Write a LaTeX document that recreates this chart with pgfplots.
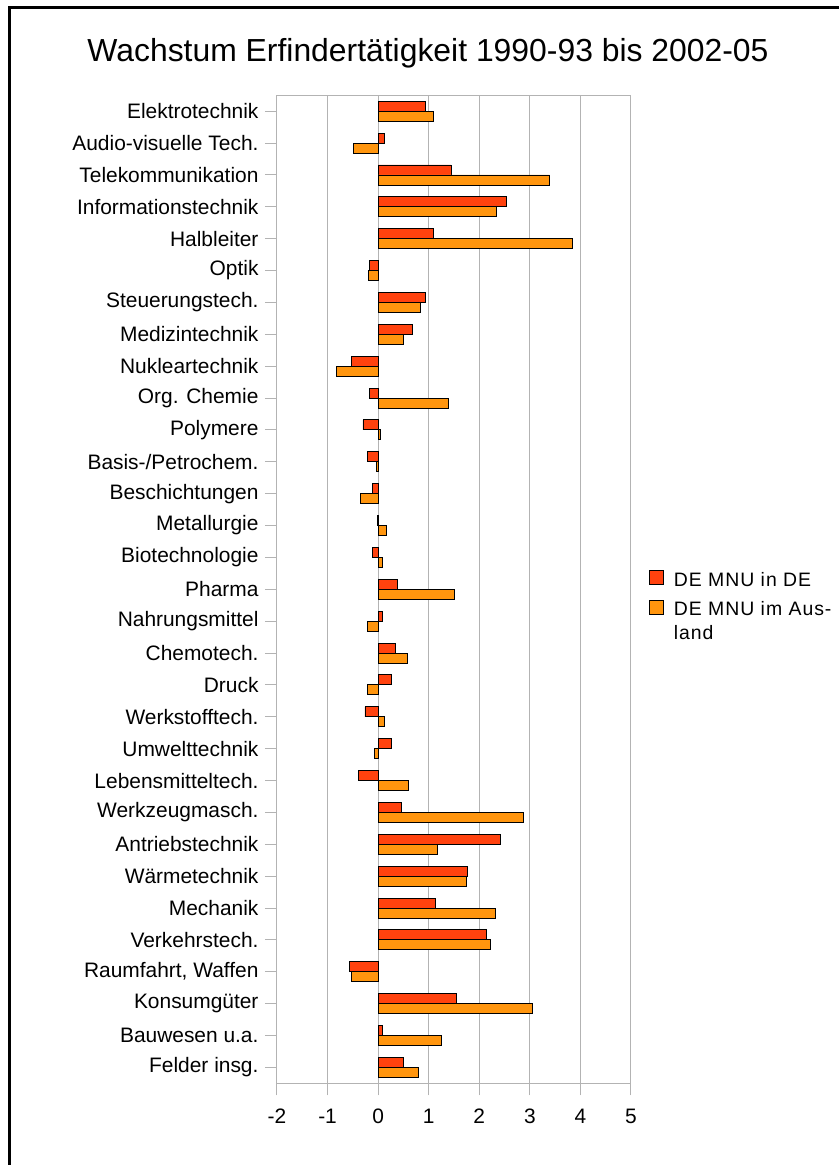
\documentclass[border=0pt]{standalone}
\usepackage{pgfplots}
\pgfplotsset{compat=1.18}
\usepackage{fontspec}
\setmainfont{Liberation Sans}
\newfontfamily\legfont[LetterSpace=5]{Liberation Sans}
\definecolor{cred}{HTML}{FF420E}
\definecolor{corange}{HTML}{FF950E}
\definecolor{cgrid}{HTML}{B3B3B3}
\pgfplotstableread{
y red orange
30 0.94 1.10
29 0.12 -0.49
28 1.44 3.39
27 2.53 2.34
26 1.10 3.85
25 -0.18 -0.19
24 0.94 0.83
23 0.68 0.50
22 -0.52 -0.83
21 -0.18 1.39
20 -0.30 0.05
19 -0.22 -0.04
18 -0.11 -0.34
17 -0.01 0.16
16 -0.11 0.08
15 0.38 1.51
14 0.08 -0.22
13 0.34 0.57
12 0.26 -0.22
11 -0.26 0.12
10 0.26 -0.07
9 -0.38 0.60
8 0.46 2.87
7 2.42 1.17
6 1.77 1.74
5 1.14 2.31
4 2.15 2.23
3 -0.56 -0.53
2 1.55 3.06
1 0.08 1.25
0 0.50 0.79
}\datatable
\begin{document}
\begin{tikzpicture}
\begin{axis}[
  at={(0bp,0bp)}, anchor=south west, scale only axis,
  width=354bp, height=988bp,
  xmin=-2, xmax=5, ymin=-0.5, ymax=30.5,
  xtick={-2,...,5}, xticklabels={-2,-1,0,1,2,3,4,5},
  ytick={0,...,30},
  yticklabels={Felder insg.,Bauwesen u.a.,Konsumgüter,{Raumfahrt, Waffen},Verkehrstech.,Mechanik,Wärmetechnik,Antriebstechnik,Werkzeugmasch.,Lebensmitteltech.,Umwelttechnik,Werkstofftech.,Druck,Chemotech.,Nahrungsmittel,Pharma,Biotechnologie,Metallurgie,Beschichtungen,Basis-/Petrochem.,Polymere,Org. Chemie,Nukleartechnik,Medizintechnik,Steuerungstech.,Optik,Halbleiter,Informationstechnik,Telekommunikation,Audio-visuelle Tech.,Elektrotechnik},
  xtick pos=left, ytick pos=left,
  tick align=outside, major tick length=12bp,
  xmajorgrids, grid style={cgrid, line width=1bp},
  axis line style={cgrid, line width=1bp},
  tick style={cgrid, line width=1bp},
  tick label style={font=\fontsize{21}{25}\selectfont, text=black},
  yticklabel style={xshift=-3bp},
  xticklabel style={yshift=-10bp},
  legend style={draw=none, fill=none, inner sep=0pt, outer sep=0pt,
    at={(1.0508,0.5195)}, anchor=north west,
    font=\legfont\fontsize{19.5}{23.3}\selectfont,
    cells={anchor=base west}, nodes={inner sep=0pt},
    column sep=10bp, row sep=12bp},
]
\addplot[xbar, bar width=10bp, bar shift=5bp, fill=cred, draw=black, line width=0.9bp,
  legend image code/.code={\draw[fill=cred, draw=black, line width=0.9bp] (0bp,1.7bp) rectangle (14bp,15.7bp);}]
  table[x=red, y=y] {\datatable};
\addplot[xbar, bar width=10bp, bar shift=-5bp, fill=corange, draw=black, line width=0.9bp,
  legend image code/.code={\draw[fill=corange, draw=black, line width=0.9bp] (0bp,1.7bp) rectangle (14bp,15.7bp);}]
  table[x=orange, y=y] {\datatable};
\legend{DE MNU in DE, {\begin{tabular}[t]{@{}l@{}}DE MNU im Aus-\\land\end{tabular}}}
\end{axis}
\begin{scope}[shift={(-277bp,-81.7bp)}]
\useasboundingbox (0bp,0bp) rectangle (839bp,1165bp);
\draw[line width=3bp] (10bp,0bp) -- (10bp,1157.5bp) -- (839bp,1157.5bp);
\node[anchor=base, inner sep=0pt, font=\fontsize{32}{38}\selectfont] at (428bp,1103.3bp) {Wachstum Erfindertätigkeit 1990-93 bis 2002-05};
\end{scope}
\end{tikzpicture}
\end{document}
